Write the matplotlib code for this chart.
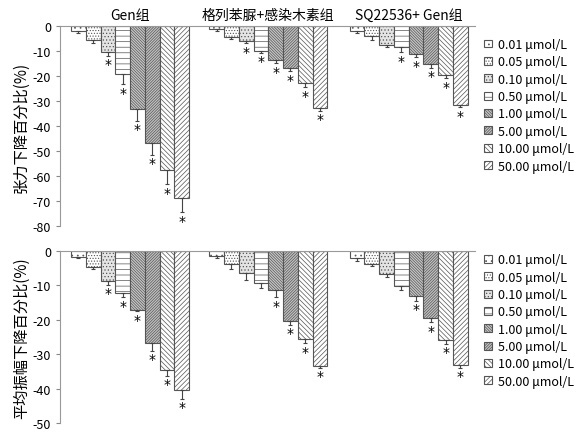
import matplotlib
matplotlib.use("Agg")
import matplotlib.pyplot as plt
from matplotlib.patches import Patch
import numpy as np

plt.rcParams['font.family'] = ['Noto Sans CJK SC', 'DejaVu Sans']
plt.rcParams['axes.unicode_minus'] = False
plt.rcParams['hatch.linewidth'] = 0.5

groups = ["Gen组", "格列苯脲+感染木素组", "SQ22536+ Gen组"]
doses = ["0.01 μmol/L", "0.05 μmol/L", "0.10 μmol/L", "0.50 μmol/L",
         "1.00 μmol/L", "5.00 μmol/L", "10.00 μmol/L", "50.00 μmol/L"]

# 张力下降百分比
top_gen = [-2.2, -5.8, -10.3, -19.3, -33.3, -46.7, -57.5, -68.8]
top_gen_err = [0.5, 1.2, 1.7, 4.0, 4.7, 4.7, 5.8, 5.7]
top_gly = [-1.4, -4.5, -6.0, -10.0, -13.6, -16.7, -22.9, -32.7]
top_gly_err = [0.5, 0.6, 1.0, 0.8, 1.4, 1.5, 1.6, 1.1]
top_sq = [-2.2, -4.2, -7.6, -8.3, -11.3, -15.4, -19.7, -31.4]
top_sq_err = [0.6, 1.3, 0.9, 2.2, 1.2, 1.4, 1.3, 1.1]
top_stars = [[2, 3, 4, 5, 6, 7], [2, 3, 4, 5, 6, 7], [3, 4, 5, 6, 7]]

# 平均振幅下降百分比
bot_gen = [-1.8, -4.8, -8.7, -12.3, -17.1, -26.8, -34.6, -40.4]
bot_gen_err = [0.3, 0.4, 1.1, 1.2, 0.4, 2.2, 1.6, 2.6]
bot_gly = [-1.6, -3.7, -6.5, -9.2, -11.4, -20.3, -25.6, -33.5]
bot_gly_err = [0.6, 1.6, 2.0, 1.6, 2.1, 1.2, 1.2, 0.5]
bot_sq = [-2.2, -3.8, -6.7, -10.3, -13.0, -19.5, -25.8, -33.0]
bot_sq_err = [0.8, 0.7, 0.8, 1.2, 1.5, 1.2, 1.2, 1.0]
bot_stars = [[2, 3, 4, 5, 6, 7], [4, 5, 6, 7], [4, 5, 6, 7]]

faces = ['white', 'white', '#e4e4e4', 'white', '#c8c8c8', '#c2c2c2', 'white', 'white']
hatches = ['...', '......', '.....', '---', '\\' * 12, '/' * 12, '\\' * 7, '/' * 7]
edge = '#555555'

fig = plt.figure(figsize=(5.76, 4.35), dpi=100)
ax1 = fig.add_axes([0.104, 0.478, 0.721, 0.46])
ax2 = fig.add_axes([0.104, 0.025, 0.721, 0.396])

group_start = [0.75, 10.1, 19.6]


def draw(ax, vals, errs, stars, ymin, ylabel, titles):
    for g in range(3):
        x = group_start[g] + np.arange(8) + 0.5
        for i in range(8):
            ax.bar(x[i], vals[g][i], width=1.0, color=faces[i], hatch=hatches[i],
                   edgecolor=edge, linewidth=0.8)
        ax.errorbar(x, vals[g], yerr=[errs[g], [0] * 8], fmt='none', ecolor='#444444',
                    elinewidth=0.8, capsize=1.5, capthick=0.8)
        for i in stars[g]:
            ax.annotate('*', (x[i], vals[g][i] - errs[g][i]), xytext=(0, -1),
                        textcoords='offset points', ha='center', va='top',
                        fontsize=10, family='DejaVu Sans')
        if titles:
            ax.text(group_start[g] + 4, 1.5, groups[g], ha='center', va='bottom',
                    fontsize=10)
    ax.set_xlim(0, 28.1)
    ax.set_ylim(ymin, 0)
    ax.set_xticks([])
    ax.set_yticks(np.arange(0, ymin - 1, -10))
    ax.tick_params(axis='y', labelsize=9, length=3, color='#888888')
    ax.spines['right'].set_visible(False)
    ax.spines['bottom'].set_visible(False)
    ax.spines['left'].set_color('#999999')
    ax.spines['top'].set_color('#999999')
    ax.set_ylabel(ylabel, fontsize=11, labelpad=2)


draw(ax1, [top_gen, top_gly, top_sq], [top_gen_err, top_gly_err, top_sq_err],
     top_stars, -80, "张力下降百分比(%)", True)
draw(ax2, [bot_gen, bot_gly, bot_sq], [bot_gen_err, bot_gly_err, bot_sq_err],
     bot_stars, -50, "平均振幅下降百分比(%)", False)

handles = [Patch(facecolor=faces[i], edgecolor=edge, hatch=hatches[i], linewidth=0.8)
           for i in range(8)]
for ax, yanchor in [(ax1, 0.925), (ax2, 0.43)]:
    fig.legend(handles, doses, loc='upper left', bbox_to_anchor=(0.83, yanchor),
               frameon=False, fontsize=9, handlelength=0.6, handleheight=0.6,
               handletextpad=0.5, labelspacing=0.35, borderpad=0)

fig.savefig('out.png', dpi=100)
